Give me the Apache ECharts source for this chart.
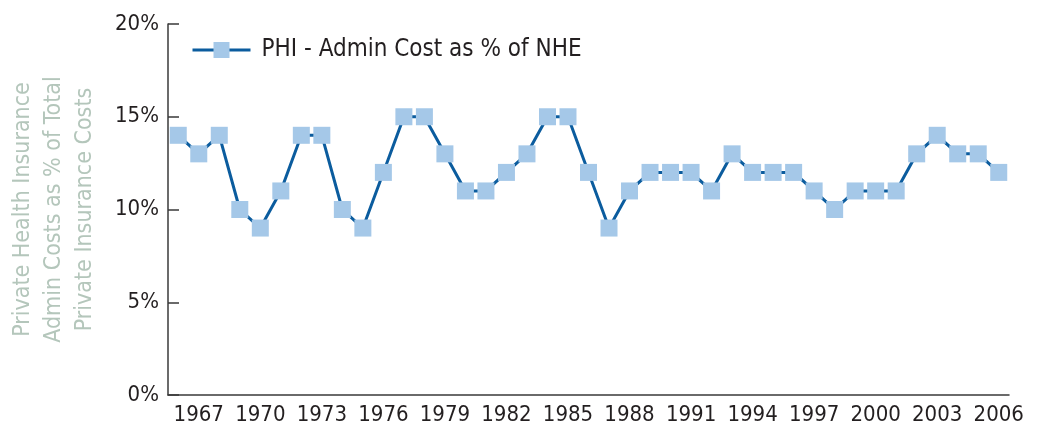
<!DOCTYPE html>
<html>
<head>
<meta charset="utf-8">
<script src="https://cdn.jsdelivr.net/npm/echarts@6/dist/echarts.min.js"></script>
<style>
  html, body { margin: 0; padding: 0; background: #fff; }
  #echart { width: 1037px; height: 431px; }
</style>
</head>
<body>
<div id="echart"></div>
<script>
const years = ['1966', '1967', '1968', '1969', '1970', '1971', '1972', '1973', '1974', '1975',
    '1976', '1977', '1978', '1979', '1980', '1981', '1982', '1983', '1984', '1985',
    '1986', '1987', '1988', '1989', '1990', '1991', '1992', '1993', '1994', '1995',
    '1996', '1997', '1998', '1999', '2000', '2001', '2002', '2003', '2004', '2005', '2006']
const adminCost = [14, 13, 14, 10, 9, 11, 14, 14, 10, 9,
    12, 15, 15, 13, 11, 11, 12, 13, 15, 15,
    12, 9, 11, 12, 12, 12, 11, 13, 12, 12,
    12, 11, 10, 11, 11, 11, 13, 14, 13, 13, 12]
const yTicks = [0, 5, 10, 15, 20]

const font = "'Liberation Sans Narrow', 'DejaVu Sans Condensed', sans-serif"
const axisColor = '#3a3a3a'

const myChart = echarts.init(document.getElementById('echart'))

myChart.setOption({
    animation: false,
    textStyle: { fontFamily: font },
    grid: {
        left: 164,
        right: 28,
        top: 24,
        bottom: 36
    },
    legend: {
        left: 186,
        top: 33,
        itemWidth: 58,
        itemHeight: 20,
        lineStyle: { width: 3 },
        textStyle: {
            fontFamily: font,
            fontSize: 24,
            color: '#231f20',
            padding: [0, 0, 0, 6]
        },
        data: ['PHI - Admin Cost as % of NHE']
    },
    xAxis: [{
        type: 'category',
        data: years,
        boundaryGap: true,
        axisLine: {
            lineStyle: { color: axisColor, width: 1.5 }
        },
        axisTick: {
            inside: true,
            interval: 0,
            length: 8,
            lineStyle: { color: axisColor, width: 1.5 }
        },
        axisLabel: {
            interval: (i) => (i - 1) % 3 === 0,
            fontFamily: font,
            fontSize: 22,
            color: '#231f20',
            margin: 9
        }
    }],
    yAxis: [{
        type: 'value',
        min: yTicks[0],
        max: yTicks[yTicks.length - 1],
        interval: 5,
        name: 'Private Health Insurance\nAdmin Costs as % of Total\nPrivate Insurance Costs',
        nameLocation: 'middle',
        nameRotate: 90,
        nameGap: 67,
        nameTextStyle: {
            fontFamily: font,
            fontSize: 23,
            lineHeight: 31,
            color: '#b4c6bb',
            align: 'center'
        },
        axisLine: {
            show: true,
            lineStyle: { color: axisColor, width: 1.5 }
        },
        axisTick: {
            show: true,
            inside: true,
            length: 11,
            lineStyle: { color: axisColor, width: 1.5 }
        },
        axisLabel: {
            formatter: '{value}%',
            fontFamily: font,
            fontSize: 22,
            color: '#231f20',
            margin: 9
        },
        splitLine: { show: false }
    }],
    series: [{
        name: 'PHI - Admin Cost as % of NHE',
        type: 'line',
        data: adminCost,
        symbol: 'rect',
        symbolSize: 17,
        showAllSymbol: true,
        itemStyle: { color: '#a5c8e8' },
        lineStyle: { color: '#0b5c9e', width: 3 }
    }]
})
</script>
</body>
</html>
